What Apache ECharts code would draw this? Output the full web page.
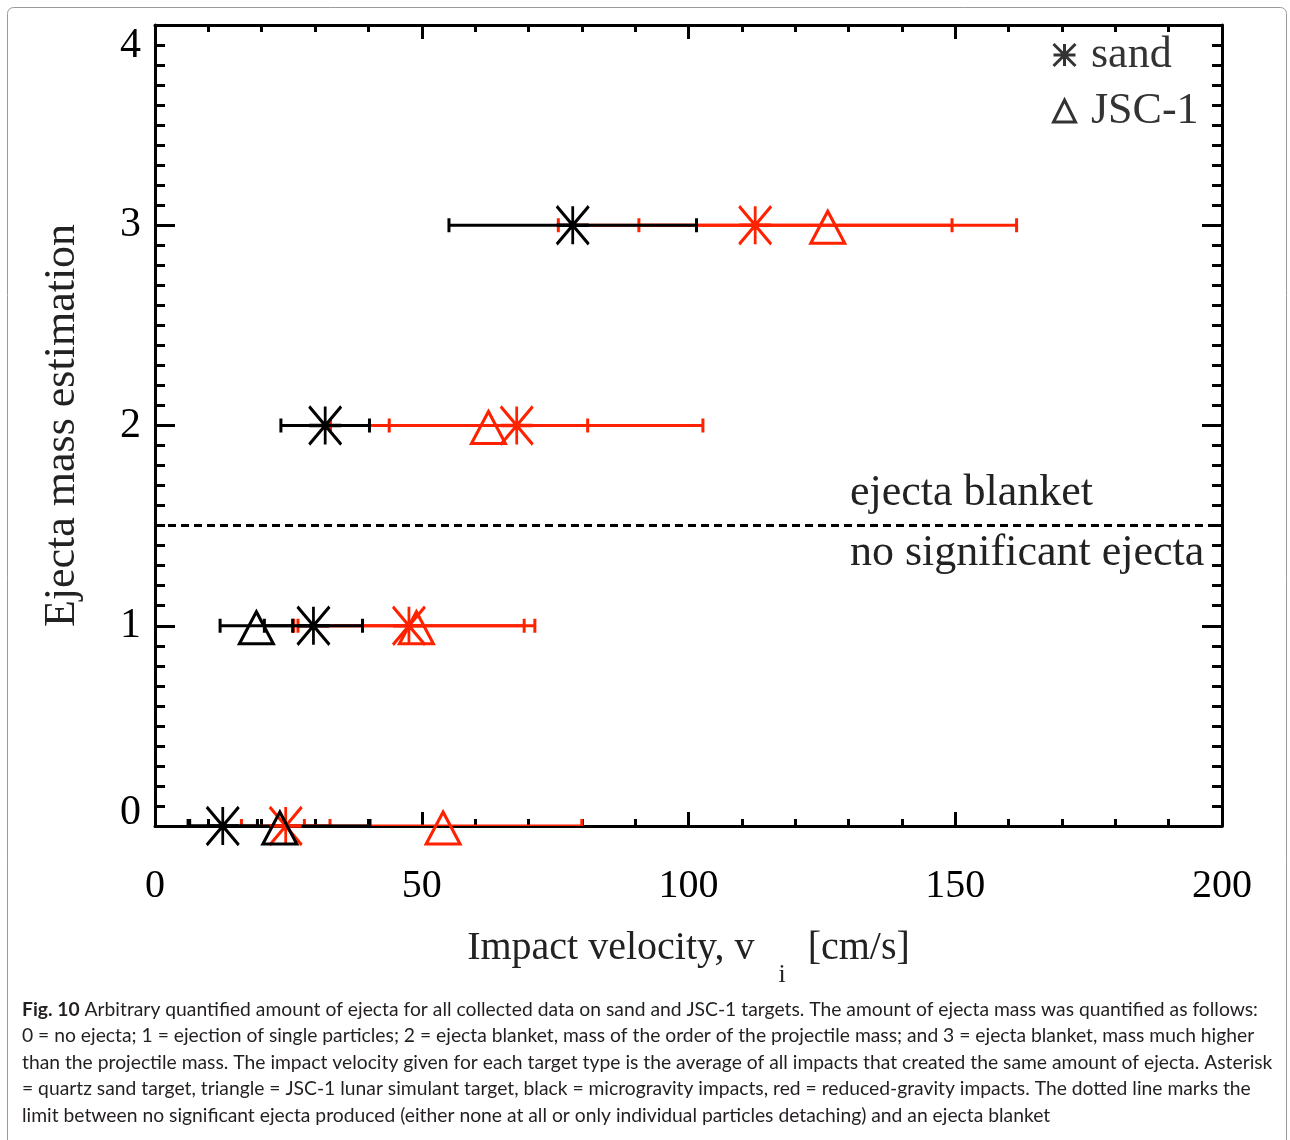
<!DOCTYPE html>
<html><head><meta charset="utf-8">
<script src="https://cdn.jsdelivr.net/npm/echarts@6/dist/echarts.min.js"></script>
<style>html,body{margin:0;padding:0;background:#fff}#c{width:1290px;height:1140px}</style>
</head><body><div id="c"></div>
<script>
// ---- data ----  [velocity (cm/s), ejecta level, half error]
const levels = [0, 1, 2, 3];
const sandMicro   = [[12.7,0,6.5],[29.7,1,9.2],[31.9,2,8.3],[78.3,3,23.2]];
const jscMicro    = [[23.4,0,16.9],[19.0,1,6.8]];
const sandReduced = [[24.5,0,8.3],[47.6,1,21.6],[67.8,2,34.9],[112.5,3,36.9]];
const jscReduced  = [[54.0,0,26.0],[49.0,1,22.2],[62.5,2,18.6],[126.1,3,35.4]];
const xTickLabels = ['0','50','100','150','200'];
const yTickLabels = ['0','1','2','3','4'];
const boundaryLevel = 1.5;
const legendNames = ['sand', 'JSC-1'];
const annotations = ['ejecta blanket', 'no significant ejecta'];
const captionLines = [
  '{b|Fig. 10} Arbitrary quantified amount of ejecta for all collected data on sand and JSC-1 targets. The amount of ejecta mass was quantified as follows:',
  '0 = no ejecta; 1 = ejection of single particles; 2 = ejecta blanket, mass of the order of the projectile mass; and 3 = ejecta blanket, mass much higher',
  'than the projectile mass. The impact velocity given for each target type is the average of all impacts that created the same amount of ejecta. Asterisk',
  '= quartz sand target, triangle = JSC-1 lunar simulant target, black = microgravity impacts, red = reduced-gravity impacts. The dotted line marks the',
  'limit between no significant ejecta produced (either none at all or only individual particles detaching) and an ejecta blanket'
];

const BLACK = '#000000', RED = '#ff2200';
const SERIF = 'Liberation Serif';
const ASTER = 'path://M0,-1L0,1M-1,-1L1,1M-1,1L1,-1M-1,0L1,0';
const TRI = 'path://M0,-1L1,1L-1,1Z';

function errRender(color) {
  return function (params, api) {
    const c = api.value(0), y = api.value(1), e = api.value(2);
    const p1 = api.coord([c - e, y]), p2 = api.coord([c + e, y]);
    const h = 7, style = { stroke: color, lineWidth: 3 };
    return { type: 'group', children: [
      { type: 'line', shape: { x1: p1[0], y1: p1[1], x2: p2[0], y2: p2[1] }, style },
      { type: 'line', shape: { x1: p1[0], y1: p1[1] - h, x2: p1[0], y2: p1[1] + h }, style },
      { type: 'line', shape: { x1: p2[0], y1: p2[1] - h, x2: p2[0], y2: p2[1] + h }, style }
    ]};
  };
}
function errSeries(name, data, color) {
  return { name, type: 'custom', renderItem: errRender(color), data,
    dimensions: ['v', 'level', 'err'], encode: { x: 'v', y: 'level' }, clip: true, silent: true };
}
function markSeries(name, data, color, tri) {
  return { name, type: 'scatter', data: data.map(d => [d[0], d[1]]),
    symbol: tri ? TRI : ASTER, symbolSize: tri ? [34, 32] : [32, 38],
    symbolOffset: tri ? [0, 2] : [0, 0], clip: false, silent: true,
    itemStyle: { color: 'none', borderColor: color, borderWidth: 3, opacity: 1 } };
}

const axisCommon = {
  axisLine: { show: true, onZero: false, lineStyle: { color: BLACK, width: 3 } },
  splitLine: { show: false }
};
function xAx(pos) {
  return Object.assign({ type: 'value', min: 0, max: 200, interval: 50, position: pos,
    axisTick: { show: true, inside: true, length: 14, lineStyle: { color: BLACK, width: 3 } },
    minorTick: { show: true, splitNumber: 5, length: 7, lineStyle: { color: BLACK, width: 3 } },
    axisLabel: { show: pos === 'bottom', color: BLACK, fontFamily: SERIF, fontSize: 40, margin: 40,
      formatter: v => xTickLabels[Math.round(v / 50)] }
  }, axisCommon);
}
function yAx(pos) {
  return Object.assign({ type: 'value', min: 0, max: 4, interval: 1, position: pos,
    axisTick: { show: true, inside: true, length: 20, lineStyle: { color: BLACK, width: 3 } },
    minorTick: { show: true, splitNumber: 10, length: 10, lineStyle: { color: BLACK, width: 3 } },
    axisLabel: { show: pos === 'left', color: BLACK, fontFamily: SERIF, fontSize: 42, margin: 14,
      verticalAlignMinLabel: 'bottom', verticalAlignMaxLabel: 'top',
      formatter: v => {
        const i = Math.round(v);
        return i === 0 ? '{lo|' + yTickLabels[i] + '}' : yTickLabels[i];
      },
      rich: { lo: { fontFamily: SERIF, fontSize: 42, color: BLACK, padding: [0, 0, -8, 0] } } }
  }, axisCommon);
}

const xa = xAx('bottom');
xa.name = 'Impact velocity, v{sub|i}[cm/s]';
xa.nameLocation = 'middle';
xa.nameGap = 82;
xa.nameTextStyle = { fontFamily: SERIF, fontSize: 40, color: '#222',
  rich: { sub: { fontFamily: SERIF, fontSize: 26, color: '#222', padding: [54, 22, 0, 24] } } };
const ya = yAx('left');
ya.name = 'Ejecta mass estimation';
ya.nameLocation = 'middle';
ya.nameGap = 71;
ya.nameTextStyle = { fontFamily: SERIF, fontSize: 44, color: '#222' };

const reducedErrSand = errSeries('sandReducedErr', sandReduced, RED);
reducedErrSand.markLine = { silent: true, symbol: 'none', label: { show: false },
  lineStyle: { color: BLACK, width: 3, type: [8, 5] }, data: [{ yAxis: boundaryLevel }] };

const option = {
  animation: false,
  backgroundColor: '#fff',
  grid: { left: 155, right: 68, top: 25, bottom: 314 },
  xAxis: [xa, xAx('top')],
  yAxis: [ya, yAx('right')],
  legend: {
    data: [
      { name: legendNames[0], icon: ASTER, itemStyle: { color: 'none', borderColor: BLACK, borderWidth: 3 } },
      { name: legendNames[1], icon: TRI, itemStyle: { color: 'none', borderColor: BLACK, borderWidth: 3 } }
    ],
    orient: 'vertical', left: 1046, top: 28, itemWidth: 25, itemHeight: 22, itemGap: 12,
    selectedMode: false,
    textStyle: { fontFamily: SERIF, fontSize: 44, color: '#333', padding: [0, 0, 0, 9] }
  },
  series: [
    { name: legendNames[0], type: 'scatter', data: [], symbol: ASTER },
    { name: legendNames[1], type: 'scatter', data: [], symbol: TRI },
    reducedErrSand,
    errSeries('jscReducedErr', jscReduced, RED),
    markSeries('sandReducedPt', sandReduced, RED, false),
    markSeries('jscReducedPt', jscReduced, RED, true),
    errSeries('sandMicroErr', sandMicro, BLACK),
    errSeries('jscMicroErr', jscMicro, BLACK),
    markSeries('sandMicroPt', sandMicro, BLACK, false),
    markSeries('jscMicroPt', jscMicro, BLACK, true)
  ],
  graphic: [
    { type: 'rect', left: 5, top: 5, shape: { width: 1279, height: 1150, r: 6 }, silent: true, z: -10,
      style: { fill: 'none', stroke: '#9a9a9a', lineWidth: 1 } },
    { type: 'text', left: 850, top: 471, style: { text: annotations[0], font: '44px "Liberation Serif"', fill: '#222' } },
    { type: 'text', left: 850, top: 531, style: { text: annotations[1], font: '44px "Liberation Serif"', fill: '#222' } }
  ].concat(captionLines.map((t, i) => ({
    type: 'text', left: 22, top: 1000 + i * 26.5,
    style: { text: t, fontFamily: 'Lato', fontSize: 19.3, fill: '#231f20',
      rich: { b: { fontFamily: 'Lato', fontSize: 19.3, fontWeight: 'bold', fill: '#231f20' } } }
  })))
};
const chart = echarts.init(document.getElementById('c'), null, { renderer: 'canvas' });
chart.setOption(option);
</script></body></html>
